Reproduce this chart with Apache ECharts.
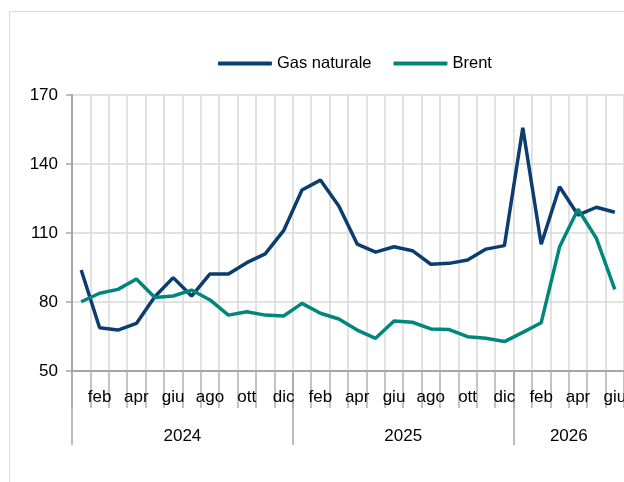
<!DOCTYPE html>
<html>
<head>
<meta charset="utf-8">
<script src="https://cdn.jsdelivr.net/npm/echarts@6/dist/echarts.min.js"></script>
<style>html,body{margin:0;padding:0;background:#fff}#c{width:624px;height:482px}</style>
</head>
<body>
<div id="c"></div>
<script>
var months = ['gen','feb','mar','apr','mag','giu','lug','ago','set','ott','nov','dic',
              'gen','feb','mar','apr','mag','giu','lug','ago','set','ott','nov','dic',
              'gen','feb','mar','apr','mag','giu'];
var years = ['2024','2025','2026'];
var yearMonths = [12, 12, 6];
var yTicks = [50, 80, 110, 140, 170];
var gasNaturale = [93.9,68.8,67.8,70.7,82.3,90.6,82.6,92.2,92.2,97.1,100.9,111.0,
                   128.7,133.0,121.7,105.2,101.7,104.0,102.3,96.4,96.8,98.3,103.0,104.5,
                   155.8,105.1,130.1,117.8,121.2,119.0];
var brent = [80.1,83.8,85.5,90.0,82.0,82.6,85.2,80.9,74.3,75.8,74.3,73.9,
             79.4,75.1,72.6,67.8,64.2,71.7,71.2,68.3,68.0,64.9,64.2,62.8,
             66.8,71.0,104.0,120.3,107.7,85.5];

var FONT = "'Liberation Sans',Arial,sans-serif";
var FS = 17;
var yearStarts = [], yearCenters = [], acc = 0;
for (var i = 0; i < years.length; i++) {
  yearStarts.push(acc);
  yearCenters.push(acc + yearMonths[i] / 2);
  acc += yearMonths[i];
}

var chart = echarts.init(document.getElementById('c'), null, {renderer: 'canvas'});
chart.setOption({
  animation: false,
  backgroundColor: '#fff',
  graphic: [{
    type: 'rect', silent: true, z: -1,
    shape: {x: 9.5, y: 11.5, width: 700, height: 600},
    style: {fill: 'none', stroke: '#d9d9d9', lineWidth: 1}
  }],
  legend: {
    top: 55, left: 218, padding: 0,
    itemWidth: 54, itemHeight: 4, itemGap: 22,
    icon: 'roundRect',
    textStyle: {fontFamily: FONT, fontSize: 16.5, color: '#000'},
    data: ['Gas naturale', 'Brent']
  },
  grid: {left: 72, right: 0, top: 95, bottom: 111, containLabel: false, outerBoundsMode: 'none'},
  xAxis: [{
    type: 'category',
    data: months,
    boundaryGap: true,
    axisLine: {show: true, lineStyle: {color: '#a6a6a6', width: 2}},
    axisTick: {show: true, interval: 0, length: 37, lineStyle: {color: '#b0b0b0', width: 1.5}},
    axisLabel: {
      interval: function (idx) { return idx % 2 === 1; },
      margin: 18, fontFamily: FONT, fontSize: FS, color: '#000'
    },
    splitLine: {show: true, interval: 0, lineStyle: {color: '#d9d9d9', width: 1.5}}
  }, {
    type: 'value',
    min: 0, max: months.length,
    position: 'bottom',
    axisLine: {show: false},
    axisTick: {show: true, customValues: yearStarts, length: 74, lineStyle: {color: '#a6a6a6', width: 1.5}},
    axisLabel: {
      customValues: yearCenters,
      formatter: function (v) { var k = yearCenters.indexOf(v); return k >= 0 ? years[k] : ''; },
      margin: 57, fontFamily: FONT, fontSize: FS, color: '#000'
    },
    splitLine: {show: false}
  }],
  yAxis: {
    type: 'value',
    min: yTicks[0], max: yTicks[yTicks.length - 1], interval: 30,
    axisLine: {show: true, lineStyle: {color: '#a6a6a6', width: 2}},
    axisTick: {show: true, length: 6, lineStyle: {color: '#a6a6a6', width: 1.5}},
    axisLabel: {margin: 14, fontFamily: FONT, fontSize: FS, color: '#000'},
    splitLine: {show: true, lineStyle: {color: '#d9d9d9', width: 1.5}}
  },
  series: [{
    name: 'Gas naturale', type: 'line', data: gasNaturale,
    xAxisIndex: 0,
    symbol: 'none', smooth: false,
    lineStyle: {color: '#0b3e6f', width: 3.5},
    itemStyle: {color: '#0b3e6f'}
  }, {
    name: 'Brent', type: 'line', data: brent,
    xAxisIndex: 0,
    symbol: 'none', smooth: false,
    lineStyle: {color: '#00877c', width: 3.5},
    itemStyle: {color: '#00877c'}
  }]
});
</script>
</body>
</html>
